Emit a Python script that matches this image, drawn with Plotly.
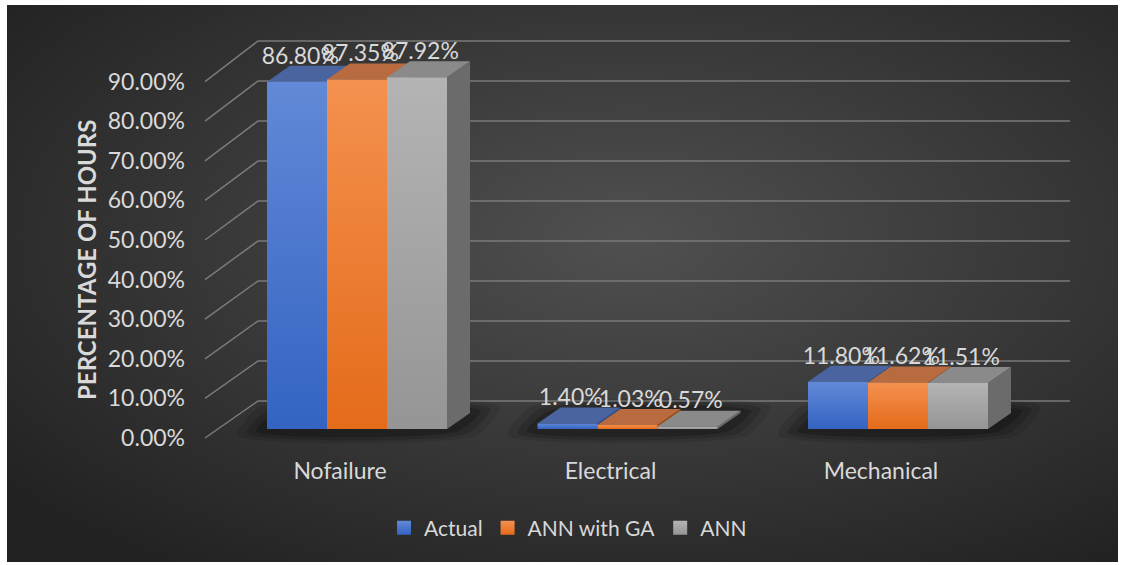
import base64
import plotly.graph_objects as go

# ---------------- data ----------------
categories = ["Nofailure", "Electrical", "Mechanical"]
series_names = ["Actual", "ANN with GA", "ANN"]
actual = [86.80, 1.40, 11.80]
ann_with_ga = [87.35, 1.03, 11.62]
ann = [87.92, 0.57, 11.51]
y_ticks = [0, 10, 20, 30, 40, 50, 60, 70, 80, 90]
y_tick_labels = [f"{v:.2f}%" for v in y_ticks]
axis_title = "PERCENTAGE OF HOURS"

series_values = [actual, ann_with_ga, ann]

# ---------------- styles ----------------
front_bottom = ["#3463C2", "#E46B1A", "#959595"]
front_top = ["#6189D7", "#F4914F", "#B4B4B4"]
top_colors = ["#4A64A0", "#B86B3F", "#8A8A8A"]
side_colors = ["#2E4F8E", "#A0521C", "#6B6B6B"]
grid_color = "#7A7A7A"
text_color = "#D9D9D9"
FONT = "Lato"

W, H = 1124, 565
L, R, T, B = 192, 1075, 20, 455       # plot area in px
PX_PER_CAT = 270.5                     # px per category unit
PX_PER_PCT = 4.0                       # px per percent
CAT0_PX = 357                          # px of first category center
BASE_PX = 429                          # px of y = 0 (bar front baseline)

x_range = [(L - CAT0_PX) / PX_PER_CAT, (R - CAT0_PX) / PX_PER_CAT]
y_range = [-(B - BASE_PX) / PX_PER_PCT, (BASE_PX - T) / PX_PER_PCT]

group_w = 180 / PX_PER_CAT
bar_w = group_w / 3
ddx = 23 / PX_PER_CAT     # bar depth (screen x)
ddy = 16 / PX_PER_PCT     # bar depth (screen y)
wall_back_left = (258 - CAT0_PX) / PX_PER_CAT
wall_front_left = (205 - CAT0_PX) / PX_PER_CAT
wall_right = (1070 - CAT0_PX) / PX_PER_CAT
back_off = 7.0            # back wall offset in %
front_off = -2.25         # front edge offset in %
front_scale = 0.99
label_off = 6.0           # data label offset above bar (%)


def back_y(v):
    return v + back_off


def front_y(v):
    return v * front_scale + front_off


fig = go.Figure()

# ---------------- walls / gridlines ----------------
gx, gy = [], []
for v in y_ticks:
    gx += [wall_front_left, wall_back_left, wall_right, None]
    gy += [front_y(v), back_y(v), back_y(v), None]
fig.add_trace(go.Scatter(x=gx, y=gy, mode="lines", line=dict(color=grid_color, width=1.5),
                         hoverinfo="skip", showlegend=False))

# ---------------- shadows ----------------
for i, _ in enumerate(categories):
    x0 = i - group_w / 2
    x1 = i + group_w / 2
    for ex, ey, a in [(0.11, 1.6, 0.10), (0.075, 1.1, 0.14), (0.04, 0.6, 0.2)]:
        fig.add_trace(go.Scatter(
            x=[x0 - ex, x1 + ex, x1 + ddx + ex, x0 + ddx - ex, x0 - ex],
            y=[-ey, -ey, ddy + ey, ddy + ey, -ey],
            fill="toself", mode="lines", line=dict(width=0, shape="spline", smoothing=0.6),
            fillcolor=f"rgba(0,0,0,{a})", hoverinfo="skip", showlegend=False))

# ---------------- 3D bars ----------------
for j, vals in enumerate(series_values):
    sx, sy, tx, ty = [], [], [], []
    for i, v in enumerate(vals):
        x0 = i - group_w / 2 + j * bar_w
        x1 = x0 + bar_w
        sx += [x1, x1, x1 + ddx, x1 + ddx, x1, None]
        sy += [0, v, v + ddy, ddy, 0, None]
        tx += [x0, x1, x1 + ddx, x0 + ddx, x0, None]
        ty += [v, v, v + ddy, v + ddy, v, None]
    fig.add_trace(go.Scatter(x=sx, y=sy, fill="toself", mode="lines", line=dict(width=0),
                             fillcolor=side_colors[j], hoverinfo="skip", showlegend=False))
    fig.add_trace(go.Scatter(x=tx, y=ty, fill="toself", mode="lines", line=dict(width=0),
                             fillcolor=top_colors[j], hoverinfo="skip", showlegend=False))
    for i, v in enumerate(vals):
        x0 = i - group_w / 2 + j * bar_w
        x1 = x0 + bar_w
        fig.add_trace(go.Scatter(
            x=[x0, x1, x1, x0, x0], y=[0, 0, v, v, 0], fill="toself", mode="lines",
            line=dict(width=0), fillcolor=front_top[j],
            fillgradient=dict(type="vertical", start=0, stop=v,
                              colorscale=[[0, front_bottom[j]], [1, front_top[j]]]),
            name=series_names[j], hovertemplate=f"{categories[i]}: {v:.2f}%<extra>{series_names[j]}</extra>",
            showlegend=False))

# ---------------- data labels ----------------
for j, vals in enumerate(series_values):
    fig.add_trace(go.Scatter(
        x=[i - group_w / 2 + (j + 0.5) * bar_w + 0.012 for i in range(len(vals))],
        y=[v + label_off for v in vals],
        text=[f"{v:.2f}%" for v in vals], mode="text", textposition="middle center",
        textfont=dict(family=FONT, size=23, color=text_color),
        hoverinfo="skip", showlegend=False))

# ---------------- legend entries ----------------
for j, name in enumerate(series_names):
    fig.add_trace(go.Scatter(
        x=[None], y=[None], mode="markers", name=name,
        marker=dict(symbol="square", size=14, color=front_top[j],
                    gradient=dict(type="vertical", color=front_bottom[j]))))

# ---------------- background ----------------
pw, ph = 1111, 557
svg = (f'<svg xmlns="http://www.w3.org/2000/svg" width="{pw}" height="{ph}" viewBox="0 0 {pw} {ph}" '
       f'preserveAspectRatio="none"><defs><radialGradient id="g" cx="0.56" cy="0.42" r="0.72">'
       f'<stop offset="0" stop-color="#505050"/><stop offset="1" stop-color="#222222"/>'
       f'</radialGradient></defs><rect width="{pw}" height="{ph}" fill="url(#g)"/></svg>')
src = "data:image/svg+xml;base64," + base64.b64encode(svg.encode()).decode()
pwid, phei = R - L, B - T
fig.add_layout_image(dict(source=src, xref="paper", yref="paper",
                          x=(7 - L) / pwid, y=(B - 5) / phei,
                          sizex=(1118 - 7) / pwid, sizey=(562 - 5) / phei,
                          xanchor="left", yanchor="top", sizing="stretch", layer="below"))

fig.add_annotation(text=f"<b>{axis_title}</b>", textangle=-90, xref="paper", yref="paper",
                   x=(86 - L) / pwid, y=(B - 260) / phei, xanchor="center", yanchor="middle",
                   showarrow=False, font=dict(family=FONT, size=24, color=text_color))

fig.update_layout(
    width=W, height=H,
    margin=dict(l=L, r=W - R, t=T, b=H - B),
    paper_bgcolor="white", plot_bgcolor="rgba(0,0,0,0)",
    font=dict(family=FONT, color=text_color),
    xaxis=dict(range=x_range, showgrid=False, zeroline=False, showline=False,
               tickvals=[i - 17 / PX_PER_CAT for i in range(len(categories))], ticktext=categories,
               tickfont=dict(family=FONT, size=23, color=text_color), fixedrange=True),
    yaxis=dict(range=y_range, showgrid=False, zeroline=False, showline=False,
               tickvals=[front_y(v) for v in y_ticks], ticktext=y_tick_labels,
               ticklabelstandoff=6,
               tickfont=dict(family=FONT, size=23, color=text_color), fixedrange=True),
    legend=dict(orientation="h", xanchor="center", yanchor="middle",
                x=(568 - L) / pwid, y=(B - 528) / phei,
                font=dict(family=FONT, size=21, color=text_color),
                bgcolor="rgba(0,0,0,0)", itemwidth=30),
    showlegend=True,
)

fig.write_html("out.html")
